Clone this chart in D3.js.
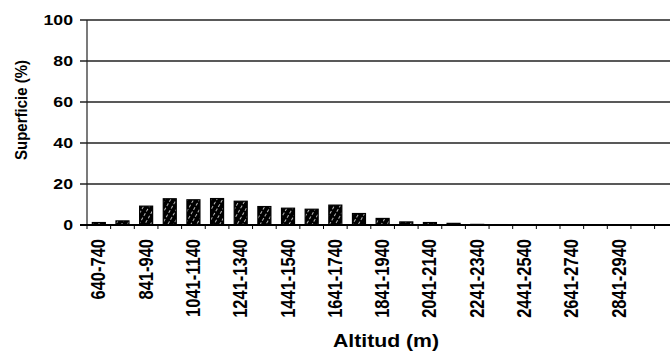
<!DOCTYPE html>
<html><head><meta charset="utf-8">
<script src="https://cdn.jsdelivr.net/npm/d3@7"></script>
<style>body{margin:0;background:#fff}svg{display:block}text{font-family:"Liberation Sans",Arial,sans-serif;fill:#000}</style>
</head><body>
<svg id="c" width="670" height="353"></svg>
<script>
const categories = ["640-740","741-840","841-940","941-1040","1041-1140","1141-1240","1241-1340","1341-1440","1441-1540","1541-1640","1641-1740","1741-1840","1841-1940","1941-2040","2041-2140","2141-2240","2241-2340","2341-2440","2441-2540","2541-2640","2641-2740","2741-2840","2841-2940","2941-3040"];
const values = [1.2,2.0,9.2,12.8,12.3,12.9,11.6,9.0,8.2,7.7,9.7,5.6,3.2,1.5,1.2,0.8,0.3,0.2,0.1,0.1,0.1,0,0,0];
const yTicks = [0,20,40,60,80,100];
const yTitle = "Superficie (%)";
const xTitle = "Altitud (m)";

(function(){
const svg = d3.select("#c");
const mLeft = 87, mTop = 20, mBottom = 225, step = 23.65;
const x = d3.scaleBand().domain(categories).range([mLeft, mLeft + step*categories.length]).paddingInner(0.45).paddingOuter(0.225);
const y = d3.scaleLinear().domain([0,100]).range([mBottom, mTop]);
const SX = 1.18;

const defs = svg.append("defs");
const pat = defs.append("pattern").attr("id","hatch").attr("patternUnits","userSpaceOnUse").attr("width",5).attr("height",5).attr("patternTransform","rotate(-60)");
pat.append("rect").attr("width",5).attr("height",5).attr("fill","#000");
pat.append("line").attr("x1",0).attr("y1",2.5).attr("x2",5).attr("y2",2.5).attr("stroke","#e8e8e8").attr("stroke-width",0.8).attr("stroke-dasharray","3,2");

svg.append("g").selectAll("line").data(yTicks.filter(d=>d>0)).join("line")
  .attr("x1", mLeft-7).attr("x2", 670).attr("y1", d=>y(d)).attr("y2", d=>y(d))
  .attr("stroke","#222").attr("stroke-width",1.3);

svg.append("g").selectAll("text").data(yTicks).join("text")
  .attr("transform", d=>`translate(73,${y(d)}) scale(${SX},1)`)
  .attr("text-anchor","end").attr("dy","0.36em")
  .style("font-size","15px").style("font-weight","bold").text(d=>d);

svg.append("g").selectAll("rect").data(categories.map((c,i)=>({c,v:values[i]})).filter(d=>d.v>0)).join("rect")
  .attr("x", d=>x(d.c)).attr("width", x.bandwidth())
  .attr("y", d=>y(d.v)).attr("height", d=>mBottom - y(d.v))
  .attr("fill","url(#hatch)").attr("stroke","#000").attr("stroke-width",1.2);

svg.append("line").attr("x1",mLeft).attr("x2",mLeft).attr("y1",mTop).attr("y2",mBottom).attr("stroke","#222").attr("stroke-width",1.2);
svg.append("line").attr("x1",mLeft-7).attr("x2",670).attr("y1",mBottom).attr("y2",mBottom).attr("stroke","#000").attr("stroke-width",1.8);
svg.append("g").selectAll("line").data(d3.range(categories.length+1)).join("line")
  .attr("x1", i=>mLeft+i*step).attr("x2", i=>mLeft+i*step).attr("y1",mBottom).attr("y2",mBottom+4)
  .attr("stroke","#000").attr("stroke-width",1);

svg.append("g").selectAll("text").data(categories.filter((c,i)=>i%2===0 && i<23)).join("text")
  .attr("transform", d=>`translate(${x(d)+x.bandwidth()/2+6.5},239) scale(1.22,1) rotate(-90)`)
  .attr("text-anchor","end")
  .style("font-size","16.5px").style("font-weight","bold").text(d=>d);

svg.append("text").attr("transform",`translate(386,347) scale(${SX},1)`).attr("text-anchor","middle")
  .style("font-size","18px").style("font-weight","bold").text(xTitle);
svg.append("text").attr("transform",`translate(27,110) scale(1.1,1) rotate(-90)`).attr("text-anchor","middle")
  .style("font-size","15px").style("font-weight","bold").text(yTitle);
})();
</script>
</body></html>
